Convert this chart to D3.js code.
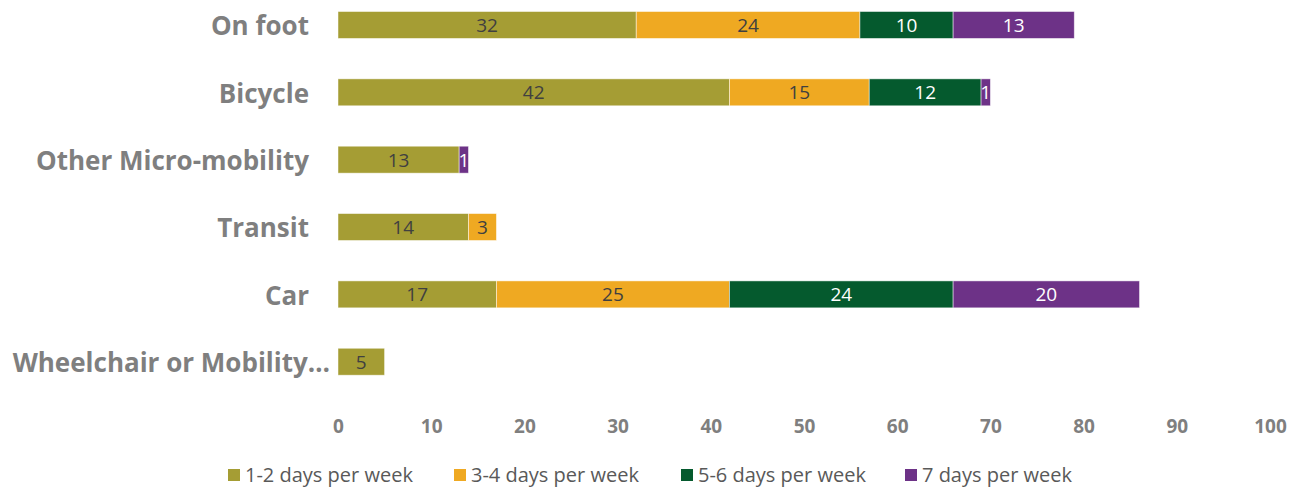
<!DOCTYPE html>
<html>
<head>
<meta charset="utf-8">
<script src="https://cdn.jsdelivr.net/npm/d3@7"></script>
<style>
  html, body { margin: 0; padding: 0; background: #ffffff; }
  svg { display: block; }
  text { font-family: "Open Sans", "Noto Sans", sans-serif; }
</style>
</head>
<body>
<svg id="chart" width="1290" height="492"></svg>
<script>
// Travel modes and how many days per week each is used
const categories = ["On foot", "Bicycle", "Other Micro-mobility", "Transit", "Car", "Wheelchair or Mobility…"];
const seriesNames = ["1-2 days per week", "3-4 days per week", "5-6 days per week", "7 days per week"];
const days12 = [32, 42, 13, 14, 17, 5];
const days34 = [24, 15, 0, 3, 25, 0];
const days56 = [10, 12, 0, 0, 24, 0];
const days7  = [13, 1, 1, 0, 20, 0];
const xTicks = [0, 10, 20, 30, 40, 50, 60, 70, 80, 90, 100];

const colors = ["#A59D34", "#EFA922", "#055A2E", "#6D3287"];
const labelColors = ["#404040", "#404040", "#ffffff", "#ffffff"];

const rows = categories.map((c, i) => ({
  category: c,
  [seriesNames[0]]: days12[i],
  [seriesNames[1]]: days34[i],
  [seriesNames[2]]: days56[i],
  [seriesNames[3]]: days7[i]
}));

const svg = d3.select("#chart");

const x = d3.scaleLinear().domain([0, 100]).range([338, 1270]);
const y = d3.scaleBand().domain(categories).range([-8.7, 395.4])
  .paddingInner(0.6).paddingOuter(0.3);

const stacked = d3.stack().keys(seriesNames)(rows);

// Stacked bar segments
const layers = svg.append("g").selectAll("g")
  .data(stacked)
  .join("g")
  .attr("fill", (d, i) => colors[i]);

layers.selectAll("rect")
  .data(d => d.filter(s => s[1] - s[0] > 0))
  .join("rect")
  .attr("x", d => x(d[0]))
  .attr("y", d => y(d.data.category))
  .attr("width", d => x(d[1]) - x(d[0]))
  .attr("height", y.bandwidth())
  .attr("stroke", "#ffffff")
  .attr("stroke-opacity", 0.6)
  .attr("stroke-width", 0.8);

// Value labels centred in each segment
stacked.forEach((layer, i) => {
  svg.append("g").selectAll("text")
    .data(layer.filter(s => s[1] - s[0] > 0))
    .join("text")
    .attr("x", d => (x(d[0]) + x(d[1])) / 2)
    .attr("y", d => y(d.data.category) + y.bandwidth() / 2)
    .attr("dy", "0.37em")
    .attr("text-anchor", "middle")
    .attr("font-size", 19)
    .attr("fill", labelColors[i])
    .text(d => d[1] - d[0]);
});

// Category labels
svg.append("g").selectAll("text")
  .data(categories)
  .join("text")
  .attr("x", d => d.endsWith("…") ? x(0) - 8 : x(0) - 29)
  .attr("y", d => y(d) + y.bandwidth() / 2 + 1)
  .attr("dy", "0.36em")
  .attr("text-anchor", "end")
  .attr("font-size", 26)
  .attr("font-weight", "bold")
  .attr("fill", "#7F7F7F")
  .text(d => d);

// Value axis (labels only)
const xAxis = svg.append("g")
  .attr("transform", "translate(0,416)")
  .call(d3.axisBottom(x).tickValues(xTicks).tickSize(0).tickPadding(3));
xAxis.select(".domain").remove();
xAxis.selectAll("text")
  .attr("font-size", 19)
  .attr("font-weight", "bold")
  .attr("fill", "#7F7F7F")
  .style("font-family", "'Open Sans', 'Noto Sans', sans-serif");

// Legend
const legendX = [228, 454, 681, 905];
const legend = svg.append("g").selectAll("g")
  .data(seriesNames)
  .join("g")
  .attr("transform", (d, i) => `translate(${legendX[i]},475)`);
legend.append("rect")
  .attr("x", 0).attr("y", -6)
  .attr("width", 12).attr("height", 12)
  .attr("fill", (d, i) => colors[i]);
legend.append("text")
  .attr("x", 17).attr("y", 0).attr("dy", "0.36em")
  .attr("font-size", 20)
  .attr("fill", "#595959")
  .text(d => d);
</script>
</body>
</html>
